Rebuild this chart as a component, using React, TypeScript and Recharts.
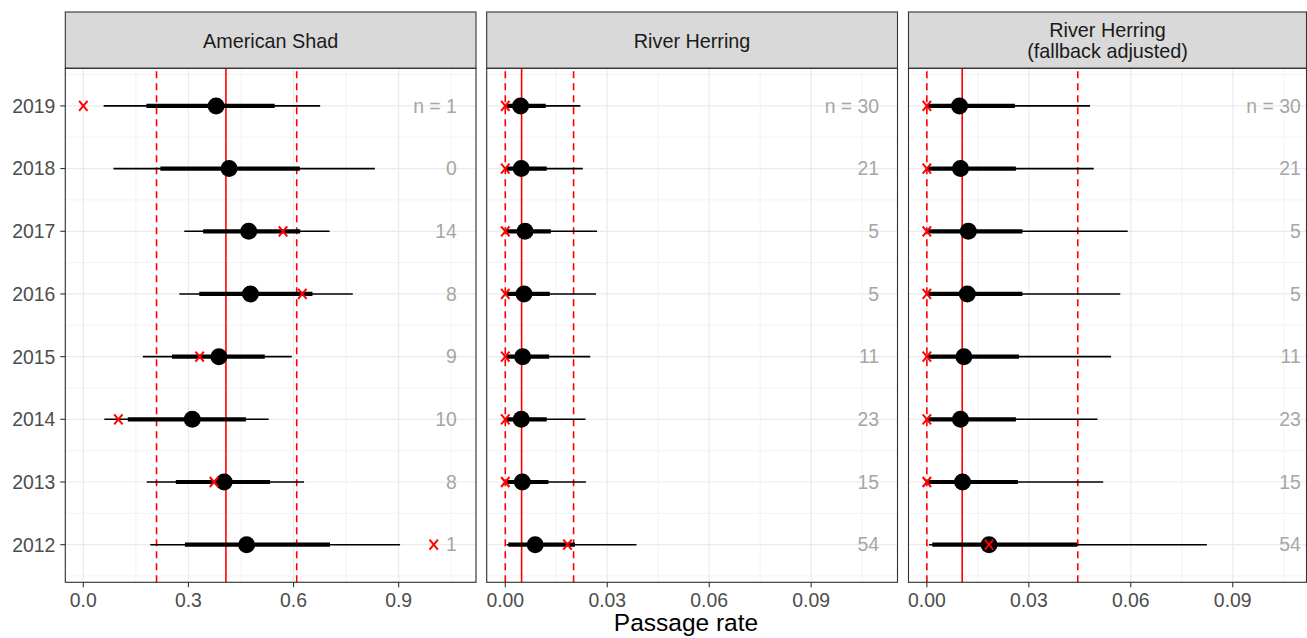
import React from 'react';
import { ScatterChart, Scatter, XAxis, YAxis, CartesianGrid, ReferenceLine } from 'recharts';

const FONT = '"Liberation Sans", Arial, Helvetica, sans-serif';

const years = [2019, 2018, 2017, 2016, 2015, 2014, 2013, 2012];
const yearTicks = [2012, 2013, 2014, 2015, 2016, 2017, 2018, 2019];
const yearMinor = [2011.5, 2012.5, 2013.5, 2014.5, 2015.5, 2016.5, 2017.5, 2018.5, 2019.5];

// American Shad
const shadMedian = [0.379, 0.416, 0.472, 0.477, 0.387, 0.311, 0.402, 0.466];
const shadLo95 = [0.058, 0.086, 0.288, 0.274, 0.17, 0.06, 0.181, 0.191];
const shadHi95 = [0.676, 0.832, 0.703, 0.769, 0.595, 0.529, 0.63, 0.904];
const shadLo50 = [0.18, 0.22, 0.342, 0.331, 0.253, 0.127, 0.264, 0.29];
const shadHi50 = [0.546, 0.618, 0.619, 0.654, 0.518, 0.464, 0.533, 0.704];
const shadObserved = [0.0, null, 0.57, 0.625, 0.332, 0.1, 0.373, 1.0];
const shadN = ['n = 1', '0', '14', '8', '9', '10', '8', '1'];
const shadRef = { mean: 0.407, lower: 0.209, upper: 0.609 };

// River Herring
const rhMedian = [0.0045, 0.0047, 0.0058, 0.0055, 0.0051, 0.0047, 0.005, 0.0088];
const rhLo95 = [0.0002, 0.0002, 0.0002, 0.0002, 0.0002, 0.0002, 0.0002, 0.0004];
const rhHi95 = [0.0221, 0.0228, 0.027, 0.0267, 0.025, 0.0236, 0.0237, 0.0386];
const rhLo50 = [0.0005, 0.0005, 0.0005, 0.0005, 0.0005, 0.0005, 0.0005, 0.0009];
const rhHi50 = [0.0119, 0.0122, 0.0134, 0.0131, 0.0129, 0.0122, 0.0127, 0.0205];
const rhObserved = [0, 0, 0, 0, 0, 0, 0, 0.0183];
const rhRef = { mean: 0.0048, lower: 0.0, upper: 0.0201 };

// River Herring (fallback adjusted)
const fbMedian = [0.0096, 0.0099, 0.0122, 0.0119, 0.0109, 0.0099, 0.0105, 0.0183];
const fbLo95 = [0.0002, 0.0002, 0.0002, 0.0002, 0.0002, 0.0002, 0.0002, 0.0006];
const fbHi95 = [0.048, 0.0491, 0.0591, 0.0569, 0.0542, 0.0502, 0.0519, 0.0824];
const fbLo50 = [0.0005, 0.0005, 0.0005, 0.0005, 0.0005, 0.0005, 0.0005, 0.0016];
const fbHi50 = [0.0259, 0.0262, 0.0281, 0.0281, 0.0271, 0.0262, 0.0268, 0.0442];
const fbObserved = [0, 0, 0, 0, 0, 0, 0, 0.0183];
const rhN = ['n = 30', '21', '5', '5', '11', '23', '15', '54'];
const fbRef = { mean: 0.0104, lower: 0.0, upper: 0.0444 };

const shadTicks = [0, 0.3, 0.6, 0.9];
const shadMinor = [0.15, 0.45, 0.75, 1.05];
const rhTicks = [0, 0.03, 0.06, 0.09];
const rhMinor = [0.015, 0.045, 0.075, 0.105];

const PLOT_TOP = 68.3;
const PLOT_BOTTOM = 582.3;
const H = 638;

const Dot = (p: any) => <circle cx={p.cx} cy={p.cy} r={8.5} fill="#000" />;
const Cross = (p: any) => (
  <g stroke="#FF0000" strokeWidth={2}>
    <line x1={p.cx - 4.2} y1={p.cy - 5} x2={p.cx + 4.2} y2={p.cy + 5} />
    <line x1={p.cx - 4.2} y1={p.cy + 5} x2={p.cx + 4.2} y2={p.cy - 5} />
  </g>
);
const NLabel = (p: any) => (
  <text x={p.cx} y={p.cy} dy="0.35em" textAnchor="end" fill="#A6A6A6" fontSize={19.4} fontFamily={FONT}>
    {p.payload.label}
  </text>
);

interface PanelProps {
  left: number;
  width: number;
  marginLeft: number;
  marginRight: number;
  showY: boolean;
  median: number[];
  lo95: number[];
  hi95: number[];
  lo50: number[];
  hi50: number[];
  observed: (number | null)[];
  labels: string[];
  labelX: number;
  refs: { mean: number; lower: number; upper: number };
  domain: [number, number];
  ticks: number[];
  minor: number[];
  digits: number;
}

function Panel(props: PanelProps) {
  const dots = years.map((y, i) => ({ x: props.median[i], y }));
  const obs = years
    .map((y, i) => ({ x: props.observed[i], y }))
    .filter((d) => d.x !== null);
  const nText = years.map((y, i) => ({ x: props.labelX, y, label: props.labels[i] }));
  const tickStyle = { fill: '#4D4D4D', fontSize: 19.4, fontFamily: FONT };
  return (
    <div style={{ position: 'absolute', left: props.left, top: 0 }}>
      <ScatterChart
        width={props.width}
        height={H}
        margin={{ top: PLOT_TOP, right: props.marginRight, left: props.marginLeft, bottom: H - PLOT_BOTTOM - 40 }}
      >
        <CartesianGrid
          stroke="#EBEBEB"
          strokeWidth={0.6}
          verticalValues={props.minor}
          horizontalValues={yearMinor}
        />
        <CartesianGrid stroke="#EBEBEB" strokeWidth={1.2} />
        <XAxis
          type="number"
          dataKey="x"
          domain={props.domain}
          ticks={props.ticks}
          allowDataOverflow
          height={40}
          tickSize={5}
          tickMargin={6}
          tick={tickStyle}
          tickLine={{ stroke: '#333333', strokeWidth: 1.1 }}
          axisLine={false}
          tickFormatter={(v: number) => v.toFixed(props.digits)}
        />
        <YAxis
          type="number"
          dataKey="y"
          domain={[2011.4, 2019.6]}
          ticks={yearTicks}
          allowDataOverflow
          hide={!props.showY}
          width={props.showY ? 65.3 : 0}
          tickSize={5}
          tickMargin={5}
          tick={tickStyle}
          tickLine={{ stroke: '#333333', strokeWidth: 1.1 }}
          axisLine={false}
          tickFormatter={(v: number) => String(v)}
        />
        <ReferenceLine x={props.refs.mean} stroke="#FF0000" strokeWidth={1.6} />
        <ReferenceLine x={props.refs.lower} stroke="#FF0000" strokeWidth={1.6} strokeDasharray="7 5" />
        <ReferenceLine x={props.refs.upper} stroke="#FF0000" strokeWidth={1.6} strokeDasharray="7 5" />
        {years.map((y, i) => (
          <ReferenceLine
            key={`t${y}`}
            segment={[{ x: props.lo95[i], y }, { x: props.hi95[i], y }]}
            stroke="#000"
            strokeWidth={1.6}
            ifOverflow="visible"
          />
        ))}
        {years.map((y, i) => (
          <ReferenceLine
            key={`k${y}`}
            segment={[{ x: props.lo50[i], y }, { x: props.hi50[i], y }]}
            stroke="#000"
            strokeWidth={4.2}
            ifOverflow="visible"
          />
        ))}
        <Scatter data={dots} shape={Dot} isAnimationActive={false} />
        <Scatter data={obs} shape={Cross} isAnimationActive={false} />
        <Scatter data={nText} shape={NLabel} isAnimationActive={false} />
      </ScatterChart>
    </div>
  );
}

const panelsGeo = [
  { x0: 65.3, x1: 476, title: ['American Shad'] },
  { x0: 486.7, x1: 897.5, title: ['River Herring'] },
  { x0: 908.5, x1: 1306.5, title: ['River Herring', '(fallback adjusted)'] },
];

export default function App() {
  return (
    <div style={{ position: 'absolute', left: 0, top: 0, width: 1307, height: H, background: '#fff', overflow: 'hidden' }}>
      <Panel
        left={0}
        width={477}
        marginLeft={0}
        marginRight={1}
        showY
        median={shadMedian}
        lo95={shadLo95}
        hi95={shadHi95}
        lo50={shadLo50}
        hi50={shadHi50}
        observed={shadObserved}
        labels={shadN}
        labelX={1.066}
        refs={shadRef}
        domain={[-0.0514, 1.1207]}
        ticks={shadTicks}
        minor={shadMinor}
        digits={1}
      />
      <Panel
        left={480}
        width={418}
        marginLeft={6.7}
        marginRight={0.5}
        showY={false}
        median={rhMedian}
        lo95={rhLo95}
        hi95={rhHi95}
        lo50={rhLo50}
        hi50={rhHi50}
        observed={rhObserved}
        labels={rhN}
        labelX={0.11}
        refs={rhRef}
        domain={[-0.00547, 0.1154]}
        ticks={rhTicks}
        minor={rhMinor}
        digits={2}
      />
      <Panel
        left={900}
        width={407}
        marginLeft={8.5}
        marginRight={0.5}
        showY={false}
        median={fbMedian}
        lo95={fbLo95}
        hi95={fbHi95}
        lo50={fbLo50}
        hi50={fbHi50}
        observed={fbObserved}
        labels={rhN}
        labelX={0.11}
        refs={fbRef}
        domain={[-0.0054, 0.1117]}
        ticks={rhTicks}
        minor={rhMinor}
        digits={2}
      />
      <svg
        width={1307}
        height={H}
        style={{ position: 'absolute', left: 0, top: 0, pointerEvents: 'none' }}
      >
        {panelsGeo.map((p, i) => (
          <g key={i}>
            <rect x={p.x0} y={12} width={p.x1 - p.x0} height={PLOT_TOP - 12} fill="#D9D9D9" stroke="#333333" strokeWidth={1.1} />
            <rect x={p.x0} y={PLOT_TOP} width={p.x1 - p.x0} height={PLOT_BOTTOM - PLOT_TOP} fill="none" stroke="#333333" strokeWidth={1.1} />
            {p.title.length === 1 ? (
              <text x={(p.x0 + p.x1) / 2} y={47.5} textAnchor="middle" fill="#1A1A1A" fontSize={19.8} fontFamily={FONT}>
                {p.title[0]}
              </text>
            ) : (
              <text x={(p.x0 + p.x1) / 2} textAnchor="middle" fill="#1A1A1A" fontSize={19.8} fontFamily={FONT}>
                <tspan x={(p.x0 + p.x1) / 2} y={36.5}>{p.title[0]}</tspan>
                <tspan x={(p.x0 + p.x1) / 2} y={58}>{p.title[1]}</tspan>
              </text>
            )}
          </g>
        ))}
        <text x={686} y={631} textAnchor="middle" fill="#000" fontSize={24.5} fontFamily={FONT}>
          Passage rate
        </text>
      </svg>
    </div>
  );
}
